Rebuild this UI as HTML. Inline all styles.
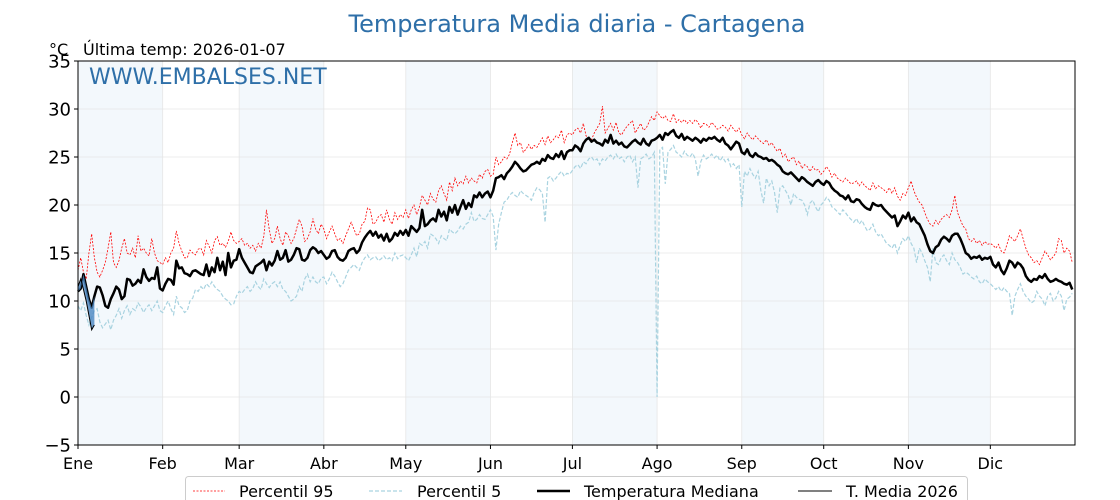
<!DOCTYPE html>
<html><head><meta charset="utf-8"><style>
html,body{margin:0;padding:0;background:#fff;}
svg{display:block;font-family:"DejaVu Sans","Liberation Sans",sans-serif;}
</style></head><body>
<svg id="chart" width="1120" height="500" viewBox="0 0 1120 500">
<text x="577" y="32" text-anchor="middle" font-size="24" fill="#2e6fa8">Temperatura Media diaria - Cartagena</text>
<text x="49" y="55" font-size="16" fill="#000">°C</text>
<text x="83" y="55" font-size="16" fill="#000">Última temp: 2026-01-07</text>
<g id="bands"></g>
<g id="grid"></g>
<g id="series"></g>
<text x="89" y="84" font-size="22" fill="#2e6fa8">WWW.EMBALSES.NET</text>
<rect x="78" y="61" width="997" height="384" fill="none" stroke="#000" stroke-width="1"/>
<g id="axes"></g>
<g>
<rect x="185.5" y="476.5" width="782" height="34" rx="3" fill="#fff" stroke="#ccc"/>
<line x1="193" y1="491" x2="225" y2="491" stroke="red" stroke-width="0.8" stroke-dasharray="2,1.5"/>
<text x="239" y="497" font-size="16">Percentil 95</text>
<line x1="369" y1="491" x2="402" y2="491" stroke="#a9d3e0" stroke-width="1.2" stroke-dasharray="4,2"/>
<text x="417" y="497" font-size="16">Percentil 5</text>
<line x1="537" y1="491" x2="570" y2="491" stroke="#000" stroke-width="2.5"/>
<text x="584" y="497" font-size="16">Temperatura Mediana</text>
<line x1="798" y1="491" x2="832" y2="491" stroke="#000" stroke-width="1"/>
<text x="846" y="497" font-size="16">T. Media 2026</text>
</g>
</svg>
<script>
const months=["Ene","Feb","Mar","Abr","May","Jun","Jul","Ago","Sep","Oct","Nov","Dic"];
const monthStarts=[0,31,59,90,120,151,181,212,243,273,304,334];
const yTicks=[-5,0,5,10,15,20,25,30,35];
const median=[11,11.3,12.8,11.5,10.2,9.3,10.5,11.5,11.4,10.6,9.5,9.3,10.2,10.8,11.5,11.2,10.2,10.5,12.3,12.2,11.6,11.8,12.2,11.9,13.3,12.5,12.1,12.4,12.3,13.5,11.3,
11.1,11.8,12.3,12.2,11.7,14.2,13.4,13.5,12.9,12.8,12.6,13.1,13.2,13.0,12.8,12.7,13.8,12.6,13.5,13.0,14.5,13.2,14.1,12.7,15.0,13.5,14.2,14.3,
15.4,14.5,14.0,13.5,13.0,12.9,13.6,13.8,14.0,14.3,13.2,14.1,13.7,14.2,15.2,14.3,14.5,15.3,14.1,14.3,14.8,15.5,15.4,14.3,14.2,14.5,15.3,15.6,15.4,15.0,15.2,
14.8,14.4,14.6,15.2,15.3,14.6,14.3,14.2,14.5,15.2,15.4,15.5,15.0,15.3,16.1,16.6,17.0,17.3,16.8,17.2,16.6,16.9,16.3,17.0,16.2,16.5,17.1,16.8,17.3,16.9,
17.4,16.8,17.8,17.5,17.2,17.6,19.5,17.8,18.0,18.4,18.6,18.3,19.5,18.8,19.3,18.4,19.8,19.2,20.0,19.0,19.8,20.5,19.6,20.2,19.8,21.0,20.8,21.3,20.8,21.2,21.4,
20.8,21.5,22.8,22.9,23.1,22.7,23.3,23.6,24.0,24.5,24.2,23.8,23.5,23.6,23.9,24.2,24.3,24.5,24.3,24.8,24.6,25.2,24.9,24.8,25.3,25.0,25.6,24.8,25.5,25.7,
25.7,26.2,26.0,25.6,26.4,26.8,27.0,26.6,26.8,26.5,26.4,26.2,26.8,26.5,27.3,26.4,26.7,26.3,26.5,26.1,26.0,26.3,26.6,26.8,26.5,26.3,26.9,26.4,26.2,26.7,26.8,
27.0,27.3,26.8,27.5,27.3,27.6,27.8,27.2,27.0,27.4,26.8,27.1,26.9,26.7,27.0,26.8,26.5,26.9,26.7,27.0,26.9,27.1,26.8,26.6,27.0,26.4,26.2,25.8,26.2,26.6,26.4,
25.5,25.3,25.8,25.2,25.0,25.4,25.1,25.0,24.8,24.9,24.6,24.7,24.5,24.2,24.0,23.5,23.3,23.2,23.4,23.1,22.8,22.5,22.9,22.7,22.4,22.2,22.0,22.4,22.6,22.3,
22.1,22.5,22.3,21.8,21.5,21.3,21.0,20.9,20.6,21.0,20.4,20.3,20.6,20.5,20.1,19.8,19.6,19.5,20.2,20.0,19.9,20.0,19.6,19.3,19.0,18.7,18.9,17.8,18.3,18.9,18.6,
19.2,18.3,18.7,18.2,18.0,17.4,16.8,15.9,15.2,15.0,15.6,15.8,16.4,16.7,16.5,16.2,16.8,17.0,17.0,16.5,15.8,15.0,14.8,14.4,14.6,14.5,14.7,14.3,14.5,14.4,
14.6,13.8,13.5,14.0,13.2,12.8,13.4,14.2,14.0,13.5,14.0,13.8,13.4,12.6,12.2,12.0,12.3,12.2,12.6,12.4,12.8,12.3,12.0,12.1,12.3,12.1,12.0,11.8,11.7,11.9,11.2];
const p95=[13.2,14.5,13.0,12.3,15.0,17.0,14.5,13.0,12.5,13.2,14.0,15.5,17.2,14.0,13.5,14.2,15.5,16.5,15.0,14.8,15.5,14.5,16.8,15.2,15.5,15.0,14.7,16.5,15.0,14.2,14.0,
13.8,14.5,14.0,15.0,15.5,17.3,16.0,15.2,14.5,14.5,15.3,15.0,14.8,15.4,15.5,14.8,16.3,15.7,15.0,16.3,16.7,15.8,16.0,15.6,16.2,17.2,16.3,16.0,
16.2,16.5,15.8,16.0,15.5,15.8,15.2,16.0,15.5,16.7,19.5,17.5,16.0,16.5,17.8,16.5,15.8,17.2,16.8,16.0,16.5,17.5,18.5,17.8,16.2,16.5,17.2,18.6,17.5,17.0,18.0,
17.5,16.5,17.2,17.8,17.0,16.3,16.5,16.0,16.8,17.5,18.2,17.5,16.8,17.0,18.0,18.3,19.7,19.5,18.0,18.2,18.8,19.0,18.2,19.5,18.5,18.0,19.2,18.5,19.0,18.7,
19.5,18.6,19.5,20.0,19.0,19.8,21.0,20.5,20.0,21.2,20.6,20.3,21.5,22.0,21.2,20.5,22.4,21.5,22.8,22.0,22.5,22.2,23.0,22.3,22.8,22.5,22.3,23.2,22.8,23.5,23.7,
23.0,23.2,25.0,24.2,24.5,25.0,24.8,25.3,26.5,27.5,26.2,26.5,25.5,25.8,26.3,25.8,26.2,26.0,26.5,27.0,26.3,27.2,26.5,26.8,27.2,27.0,27.8,26.5,27.3,27.5,
27.3,27.8,28.0,27.5,28.5,27.2,27.0,26.8,27.5,28.0,28.5,30.3,27.5,28.0,28.5,27.8,28.6,27.5,27.3,27.8,28.2,28.5,28.8,27.5,28.0,28.5,27.8,28.0,28.6,29.2,28.8,
29.7,29.3,29.0,29.3,28.8,28.7,29.5,28.6,28.9,28.6,28.9,28.5,28.8,28.5,28.9,28.6,28.0,28.5,28.4,28.1,28.6,28.3,27.9,28.0,28.3,28.1,27.7,28.3,27.9,27.6,28.0,
27.3,26.9,27.5,27.1,26.8,27.2,26.9,26.6,26.4,26.8,26.2,26.5,26.0,25.6,25.9,25.0,25.3,24.5,24.8,25.0,24.2,24.6,23.8,24.2,24.0,23.5,24.0,23.6,23.7,23.2,
23.5,24.0,23.6,22.9,23.3,22.8,22.6,22.4,22.8,22.5,22.2,22.3,22.5,22.0,22.4,22.0,21.8,21.5,22.3,21.7,22.0,21.8,21.6,21.3,21.8,21.2,21.8,20.9,20.5,21.2,21.0,
21.8,22.5,21.5,20.8,20.3,20.0,19.2,18.5,18.0,17.8,18.4,18.0,18.5,18.8,19.0,18.7,19.5,21.0,19.2,18.5,17.8,17.5,16.5,16.2,16.5,16.0,16.3,15.8,16.2,15.9,
16.0,15.8,15.5,15.9,15.2,15.0,15.8,16.8,16.5,16.2,16.8,17.5,16.5,15.5,14.8,14.5,14.0,14.2,13.8,14.5,15.2,14.8,14.3,14.6,15.0,16.5,16.3,15.0,15.5,15.2,14.0];
const p5=[9.5,9.0,9.8,8.5,7.5,8.3,9.0,9.2,7.8,7.2,7.6,8.0,7.0,8.0,8.5,9.2,8.2,9.0,9.5,8.6,9.2,9.0,9.8,9.4,8.8,9.3,9.6,9.0,9.5,10.0,9.0,
8.8,9.5,10.0,9.2,8.6,10.5,9.5,9.3,8.8,9.0,10.0,10.3,11.2,11.0,11.5,11.2,11.8,11.5,12.0,11.5,11.2,11.0,10.5,10.2,10.0,9.6,9.7,10.5,
11.0,10.8,11.2,11.5,11.0,11.3,12.0,11.5,11.2,12.3,11.8,11.4,11.8,12.0,11.5,12.0,11.2,11.0,10.5,10.0,10.2,10.5,11.5,11.0,12.3,12.8,12.0,12.5,12.0,11.8,12.4,
12.5,11.8,12.3,13.0,12.6,12.0,11.5,11.8,12.5,13.2,13.5,13.8,13.5,13.2,14.0,14.5,14.8,14.3,14.5,14.6,14.2,14.4,14.7,14.3,14.5,14.2,15.0,14.4,14.7,14.8,
14.5,14.2,14.8,15.5,14.6,16.0,15.8,16.2,15.5,17.0,16.8,16.5,16.0,16.8,16.5,16.3,17.5,17.2,17.0,17.3,17.8,17.5,18.0,18.2,19.2,18.3,18.5,19.0,18.6,18.5,19.0,
19.5,18.8,15.3,18.0,19.2,20.3,20.5,21.0,21.3,21.0,20.8,21.5,21.2,21.0,20.8,20.5,21.3,21.8,21.6,21.2,18.2,22.8,23.0,22.5,22.8,23.2,23.5,23.0,23.3,23.2,
23.6,24.0,24.2,23.8,24.5,24.3,24.8,25.0,24.6,24.8,24.2,24.8,24.6,25.0,25.2,24.8,25.3,24.8,25.0,24.5,25.0,25.2,24.5,25.0,21.8,24.8,25.0,25.3,24.8,25.0,25.5,
0,25.8,26.0,22.2,25.5,25.8,26.2,25.5,25.3,25.0,25.6,25.2,25.0,25.4,24.8,23.0,24.5,25.2,24.8,25.0,25.3,24.9,25.2,24.6,25.0,24.5,24.8,24.0,24.3,23.8,24.2,
19.8,23.5,23.0,23.8,23.2,22.8,23.5,21.5,20.2,22.8,22.0,22.5,21.3,19.2,21.8,22.0,21.5,21.0,20.0,21.2,20.8,20.6,20.5,20.0,19.0,20.2,20.5,19.8,19.3,20.0,
20.3,20.8,20.5,19.8,19.6,19.3,19.0,19.5,19.2,18.8,18.5,18.2,18.6,18.0,18.4,17.8,17.3,17.5,18.0,17.2,16.8,17.0,16.5,16.0,15.8,15.5,16.0,15.0,15.8,16.5,16.2,
16.8,16.0,15.5,14.0,15.5,15.0,14.2,13.5,12.0,15.5,14.0,13.8,14.5,14.8,14.2,13.8,15.0,14.3,14.0,13.5,12.8,13.0,12.8,12.5,12.3,12.6,12.0,11.8,12.3,12.0,
11.8,11.5,11.2,11.5,11.0,11.4,11.0,10.8,8.5,10.5,11.2,11.8,11.0,10.5,10.2,9.8,10.0,11.0,10.5,10.2,9.5,10.5,10.8,10.0,10.3,11.0,10.5,9.0,10.2,10.4,10.8];
const t2026=[11.5,12.3,11.2,10.0,8.5,7.0,7.5];

const X0=78,X1=1075,Y0=445,Y1=61,YMIN=-5,YMAX=35,NDAYS=365;
function xs(d){return X0+d*(X1-X0)/NDAYS;}
function ys(v){return Y0-(v-YMIN)*(Y0-Y1)/(YMAX-YMIN);}
const NS="http://www.w3.org/2000/svg";
function mk(tag,attrs,parent){const e=document.createElementNS(NS,tag);for(const k in attrs)e.setAttribute(k,attrs[k]);parent.appendChild(e);return e;}
const bands=document.getElementById('bands'),grid=document.getElementById('grid'),series=document.getElementById('series'),axes=document.getElementById('axes');
for(let i=0;i<12;i+=2){
  const a=monthStarts[i],b=monthStarts[i+1];
  const r=mk('rect',{x:xs(a),y:Y1,width:xs(b)-xs(a),height:Y0-Y1,fill:'#f3f8fc'},bands);
  
  
}
yTicks.forEach(t=>{
  const l=mk('line',{x1:X0,x2:X1,y1:ys(t),y2:ys(t),stroke:'#e6e6e6','stroke-width':0.8},grid);
  
  
  mk('line',{x1:X0-4,x2:X0,y1:ys(t),y2:ys(t),stroke:'#000'},axes);
  const tx=mk('text',{x:X0-7,y:ys(t)+6.5,'text-anchor':'end','font-size':18},axes);
  tx.textContent=t<0?'\u2212'+Math.abs(t):t;
  
  
});
months.forEach((m,i)=>{
  const x=xs(monthStarts[i]);
  const l=mk('line',{x1:x,x2:x,y1:Y1,y2:Y0,stroke:'#e6e6e6','stroke-width':0.8},grid);
  
  
  mk('line',{x1:x,x2:x,y1:Y0,y2:Y0+4,stroke:'#000'},axes);
  const tx=mk('text',{x:x,y:Y0+24,'text-anchor':'middle','font-size':16},axes);
  tx.textContent=m;
  
  
});
function pts(arr){return arr.map((v,i)=>xs(i)+','+ys(v)).join(' ');}
const lp95=mk('polyline',{points:pts(p95),fill:'none',stroke:'red','stroke-width':0.8,'stroke-dasharray':'2,1.5'},series);


const lp5=mk('polyline',{points:pts(p5),fill:'none',stroke:'#a9d3e0','stroke-width':1.2,'stroke-dasharray':'4,2'},series);


const lm=mk('polyline',{points:pts(median),fill:'none',stroke:'#000','stroke-width':2.5,'stroke-linejoin':'round'},series);


let fp=t2026.map((v,i)=>xs(i)+','+ys(v));
for(let i=t2026.length-1;i>=0;i--)fp.push(xs(i)+','+ys(median[i]));
const fa=mk('polygon',{points:fp.join(' '),fill:'#4a86c0','fill-opacity':0.8},series);


const l26=mk('polyline',{points:pts(t2026),fill:'none',stroke:'#000','stroke-width':1},series);


</script>
</body></html>
